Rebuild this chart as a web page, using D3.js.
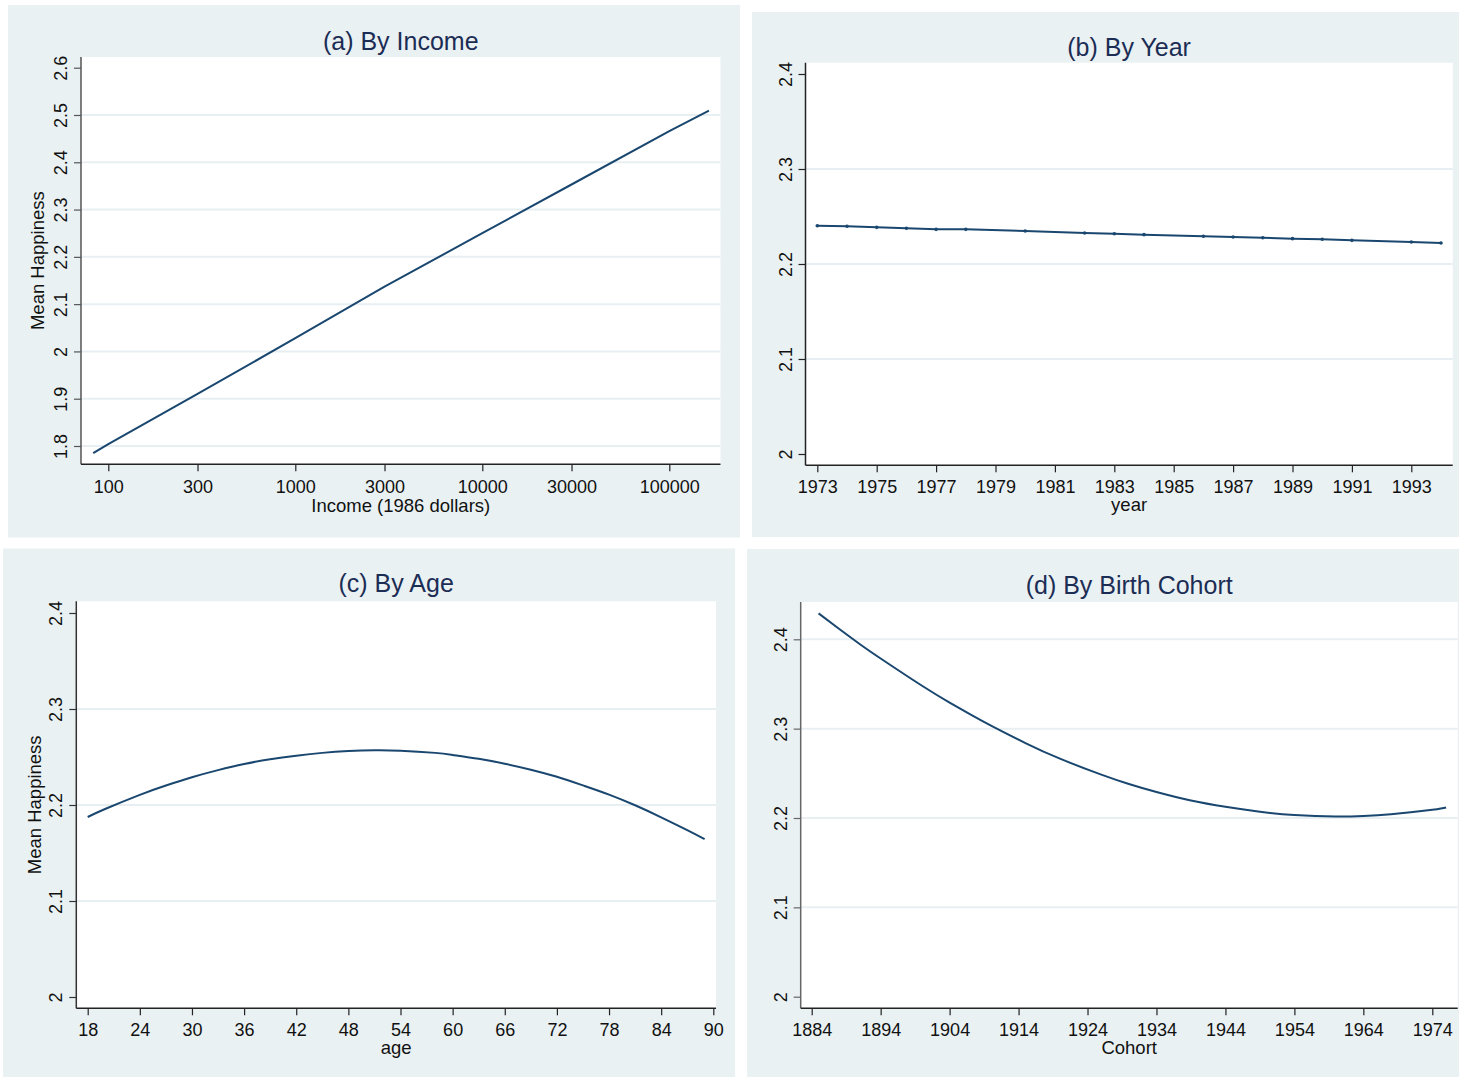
<!DOCTYPE html>
<html>
<head>
<meta charset="utf-8">
<script src="https://cdn.jsdelivr.net/npm/d3@7"></script>
<style>
  body { margin: 0; background: #ffffff; }
  svg { display: block; font-family: "Liberation Sans", Arial, Helvetica, sans-serif; }
</style>
</head>
<body>
<svg id="chart" width="1459" height="1078"></svg>
<script>
// ---- (a) happiness by income (log scale) ----
const incomeLevels    = [83, 100, 300, 1000, 3000, 10000, 30000, 100000, 163000];
const incomeHappiness = [1.785, 1.804, 1.910, 2.028, 2.137, 2.250, 2.353, 2.466, 2.509];
const incomeTicks     = [100, 300, 1000, 3000, 10000, 30000, 100000];
const incomeYTicks    = [1.8, 1.9, 2, 2.1, 2.2, 2.3, 2.4, 2.5, 2.6];

// ---- (b) happiness by survey year ----
const surveyYears     = [1973, 1974, 1975, 1976, 1977, 1978, 1980, 1982, 1983, 1984,
                         1986, 1987, 1988, 1989, 1990, 1991, 1993, 1994];
const yearHappiness   = [2.2403, 2.2397, 2.2386, 2.2376, 2.2365, 2.2365, 2.2347, 2.2326, 2.2319, 2.2309,
                         2.2292, 2.2284, 2.2277, 2.2267, 2.2260, 2.2249, 2.2232, 2.2221];
const yearTicks       = [1973, 1975, 1977, 1979, 1981, 1983, 1985, 1987, 1989, 1991, 1993];
const yearYTicks      = [2, 2.1, 2.2, 2.3, 2.4];

// ---- (c) happiness by age ----
const ages            = [18, 20, 24, 27, 30, 33, 36, 39, 42, 45, 48, 51, 54, 58, 60,
                         63, 66, 69, 72, 75, 78, 81, 84, 87, 89];
const ageHappiness    = [2.1875, 2.1958, 2.2106, 2.2203, 2.2289, 2.2363, 2.2427, 2.2477, 2.2514, 2.2543,
                         2.2562, 2.2571, 2.2566, 2.2543, 2.2522, 2.2481, 2.2430, 2.2368, 2.2294, 2.2204,
                         2.2108, 2.1997, 2.1872, 2.1738, 2.1645];
const ageTicks        = [18, 24, 30, 36, 42, 48, 54, 60, 66, 72, 78, 84, 90];
const ageYTicks       = [2, 2.1, 2.2, 2.3, 2.4];

// ---- (d) happiness by birth cohort ----
const cohorts         = [1885, 1888, 1891, 1894, 1900, 1904, 1907, 1910, 1915, 1920, 1926, 1930,
                         1934, 1939, 1944, 1949, 1954, 1960, 1964, 1968, 1974, 1976];
const cohortHappiness = [2.4290, 2.4115, 2.3945, 2.3785, 2.3480, 2.3292, 2.3160, 2.3034, 2.2839, 2.2664,
                         2.2485, 2.2380, 2.2290, 2.2195, 2.2125, 2.2070, 2.2033, 2.2016, 2.2022, 2.2042,
                         2.2092, 2.2118];
const cohortTicks     = [1884, 1894, 1904, 1914, 1924, 1934, 1944, 1954, 1964, 1974];
const cohortYTicks    = [2, 2.1, 2.2, 2.3, 2.4];

// colours
const PANEL_BG   = "#eaf1f3";
const GRID       = "#e8eff2";
const LINE_COLOR = "#1a476f";
const TITLE_COL  = "#1c2d55";
const TEXT_COL   = "#111111";

// panel layout: background box, plot box [x0, y0, x1, y1], scale ranges and text baselines
const panels = [
  {
    title: "(a) By Income", xTitle: "Income (1986 dollars)", yTitle: "Mean Happiness",
    bg: [8, 5, 740, 537.5], plot: [81, 57, 720.5, 464.3],
    xLog: true, xDomain: [100, 100000], xRange: [108.3, 669.3], xTicks: incomeTicks,
    yDomain: [1.8, 2.6], yRange: [446, 67.7], yTicks: incomeYTicks, grid: [1.8, 1.9, 2, 2.1, 2.2, 2.3, 2.4, 2.5],
    xs: incomeLevels, ys: incomeHappiness, markers: false, curve: d3.curveLinear,
    titleY: 50, tickLabelY: 28.8, xTitleY: 511.5, yTitleX: 44, yAxisColor: "#555"
  },
  {
    title: "(b) By Year", xTitle: "year", yTitle: null,
    bg: [752, 12, 1459, 537], plot: [805.5, 62.7, 1452.7, 465.3],
    xLog: false, xDomain: [1973, 1993], xRange: [817.3, 1411.3], xTicks: yearTicks,
    yDomain: [2, 2.4], yRange: [454, 74], yTicks: yearYTicks, grid: [2.1, 2.2, 2.3],
    xs: surveyYears, ys: yearHappiness, markers: true, curve: d3.curveLinear,
    titleY: 56, tickLabelY: 27.8, xTitleY: 511, yTitleX: null, yAxisColor: "#222"
  },
  {
    title: "(c) By Age", xTitle: "age", yTitle: "Mean Happiness",
    bg: [3, 548.5, 735, 1077], plot: [76.3, 601.3, 716, 1008.3],
    xLog: false, xDomain: [18, 90], xRange: [87.7, 713.3], xTicks: ageTicks,
    yDomain: [2, 2.4], yRange: [997, 613], yTicks: ageYTicks, grid: [2.1, 2.2, 2.3],
    xs: ages, ys: ageHappiness, markers: false, curve: d3.curveNatural,
    titleY: 592, tickLabelY: 27.6, xTitleY: 1054, yTitleX: 40.5, yAxisColor: "#333"
  },
  {
    title: "(d) By Birth Cohort", xTitle: "Cohort", yTitle: null,
    bg: [747, 549, 1459, 1077], plot: [800.7, 602, 1457.7, 1008.3],
    xLog: false, xDomain: [1884, 1974], xRange: [811.7, 1432.3], xTicks: cohortTicks,
    yDomain: [2, 2.4], yRange: [996.7, 639.3], yTicks: cohortYTicks, grid: [2.1, 2.2, 2.3, 2.4],
    xs: cohorts, ys: cohortHappiness, markers: false, curve: d3.curveNatural,
    titleY: 594, tickLabelY: 28, xTitleY: 1054, yTitleX: null, yAxisColor: "#666"
  }
];

const svg = d3.select("#chart");
svg.append("rect").attr("width", 1459).attr("height", 1078).attr("fill", "#ffffff");

panels.forEach(p => {
  const g = svg.append("g");
  const [bx0, by0, bx1, by1] = p.bg;
  const [px0, py0, px1, py1] = p.plot;

  // outer panel and white plot region
  g.append("rect").attr("x", bx0).attr("y", by0).attr("width", bx1 - bx0).attr("height", by1 - by0)
    .attr("fill", PANEL_BG);
  g.append("rect").attr("x", px0).attr("y", py0).attr("width", px1 - px0).attr("height", py1 - py0)
    .attr("fill", "#ffffff");

  const x = (p.xLog ? d3.scaleLog() : d3.scaleLinear()).domain(p.xDomain).range(p.xRange);
  const y = d3.scaleLinear().domain(p.yDomain).range(p.yRange);

  // horizontal gridlines
  g.append("g").selectAll("line").data(p.grid).join("line")
    .attr("x1", px0).attr("x2", px1)
    .attr("y1", d => y(d)).attr("y2", d => y(d))
    .attr("stroke", GRID).attr("stroke-width", 2);

  // y axis
  const yAxis = g.append("g").attr("transform", `translate(${px0},0)`)
    .call(d3.axisLeft(y).tickValues(p.yTicks).tickSize(7).tickSizeOuter(0).tickFormat(d => String(d)));
  yAxis.select(".domain").remove();
  yAxis.selectAll(".tick line").attr("stroke", p.yAxisColor).attr("stroke-width", 1.2);
  yAxis.selectAll(".tick text")
    .attr("transform", "rotate(-90)")
    .attr("x", 0).attr("y", -14).attr("dy", 0)
    .attr("text-anchor", "middle")
    .attr("fill", TEXT_COL).style("font-size", "18px");
  g.append("line").attr("x1", px0).attr("x2", px0).attr("y1", py0).attr("y2", py1)
    .attr("stroke", p.yAxisColor).attr("stroke-width", 1.5);

  // x axis
  const xAxis = g.append("g").attr("transform", `translate(0,${py1})`)
    .call(d3.axisBottom(x).tickValues(p.xTicks).tickSize(7).tickSizeOuter(0).tickFormat(d3.format("d")));
  xAxis.select(".domain").remove();
  xAxis.selectAll(".tick line").attr("stroke", "#222").attr("stroke-width", 1.2);
  xAxis.selectAll(".tick text")
    .attr("y", p.tickLabelY).attr("dy", 0)
    .attr("fill", TEXT_COL).style("font-size", "18px");
  g.append("line").attr("x1", px0).attr("x2", px1).attr("y1", py1).attr("y2", py1)
    .attr("stroke", "#222").attr("stroke-width", 1.5);

  // fitted series
  const pts = p.xs.map((v, i) => [v, p.ys[i]]);
  g.append("path").datum(pts)
    .attr("fill", "none").attr("stroke", LINE_COLOR).attr("stroke-width", 2)
    .attr("stroke-linejoin", "round")
    .attr("d", d3.line().curve(p.curve).x(d => x(d[0])).y(d => y(d[1])));
  if (p.markers) {
    g.append("g").selectAll("circle").data(pts).join("circle")
      .attr("cx", d => x(d[0])).attr("cy", d => y(d[1])).attr("r", 1.8)
      .attr("fill", LINE_COLOR);
  }

  // titles
  const cx = (px0 + px1) / 2;
  g.append("text").attr("x", cx).attr("y", p.titleY).attr("text-anchor", "middle")
    .attr("fill", TITLE_COL).style("font-size", "25px").text(p.title);
  g.append("text").attr("x", cx).attr("y", p.xTitleY).attr("text-anchor", "middle")
    .attr("fill", TEXT_COL).style("font-size", "18.5px").text(p.xTitle);
  if (p.yTitle) {
    const cy = (py0 + py1) / 2;
    g.append("text").attr("transform", `translate(${p.yTitleX},${cy}) rotate(-90)`)
      .attr("text-anchor", "middle")
      .attr("fill", TEXT_COL).style("font-size", "18.5px").text(p.yTitle);
  }
});
</script>
</body>
</html>
